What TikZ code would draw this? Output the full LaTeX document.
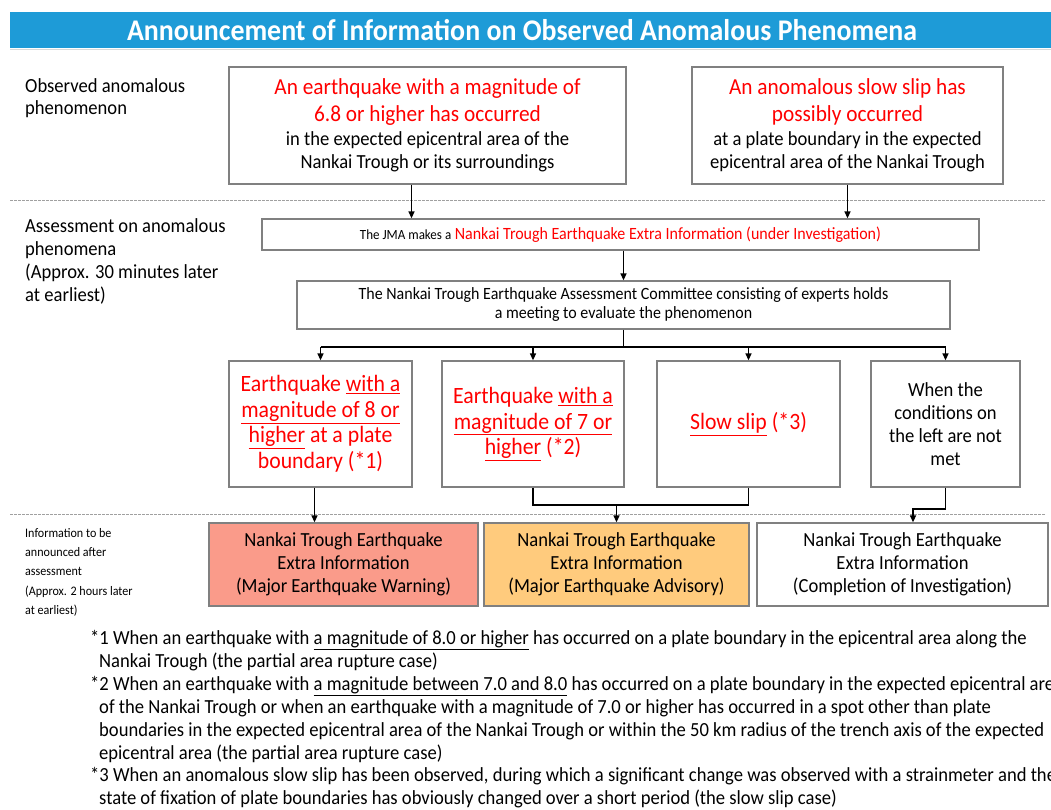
\documentclass[tikz,border=0pt]{standalone}
\usepackage{fontspec}
\setmainfont{Carlito}[FakeStretch=0.93]
\usetikzlibrary{positioning,arrows.meta,calc}

\definecolor{titleblue}{RGB}{30,155,215}
\definecolor{boxgray}{RGB}{128,128,128}
\definecolor{sepgray}{RGB}{160,160,160}
\definecolor{warnfill}{RGB}{250,155,138}
\definecolor{advfill}{RGB}{255,203,125}

\newcommand{\bigred}[1]{{\color{red}\fontsize{22.9}{27}\selectfont #1}}

\begin{document}
\begin{tikzpicture}[x=1pt,y=-1pt,
	box/.style={draw=boxgray, line width=1.3pt, align=center, inner sep=2pt, fill=white},
	arr/.style={line width=1.4pt, -{Triangle[length=7pt,width=6pt]}},
	link/.style={line width=1.4pt},
	sep/.style={draw=sepgray, line width=1pt, dash pattern=on 3pt off 1pt},
	side/.style={anchor=north west, inner sep=0pt, align=left, font=\fontsize{20}{22.5}\selectfont},
	note/.style={anchor=north west, inner sep=0pt, align=left, font=\fontsize{20}{23}\selectfont},
	]
	\useasboundingbox (0,0) rectangle (1051,809);
	\fill[white] (0,0) rectangle (1051,809);
	% title bar
	\fill[titleblue] (10,12) rectangle (1051,48);
	\draw[gray!30, line width=1pt] (10,49.5) -- (1051,49.5);
	\node[text=white, font=\bfseries\fontsize{30}{32}\selectfont] (title) at (522,30) {Announcement of Information on Observed Anomalous Phenomena};
	
	% row labels
	\node[side] (lab1) at (25,78) {Observed anomalous\\phenomenon};
	\node[side, font=\fontsize{20}{23}\selectfont] (lab2) at (25,218) {Assessment on anomalous\\phenomena\\(Approx. 30 minutes later\\at earliest)};
	\node[side, font=\fontsize{13}{19.3}\selectfont] (lab3) at (25,528) {Information to be\\announced after\\assessment\\(Approx. 2 hours later\\at earliest)};
	
	% separators
	\draw[sep] (10,200) -- (1045,200);
	\draw[sep] (10,514) -- (1045,514);
	
	% observed phenomena
	\node[box, minimum width=397, minimum height=117, font=\fontsize{20}{23}\selectfont] (quake) at (427.5,125.5) {\bigred{An earthquake with a magnitude of}\\[4pt]\bigred{6.8 or higher has occurred}\\[1pt]in the expected epicentral area of the\\Nankai Trough or its surroundings};
	\node[box, minimum width=311, minimum height=117, font=\fontsize{20}{23}\selectfont] (slip) at (847.5,125.5) {\bigred{An anomalous slow slip has}\\[4pt]\bigred{possibly occurred}\\[1pt]at a plate boundary in the expected\\epicentral area of the Nankai Trough};
	
	% assessment
	\node[box, minimum width=717, minimum height=31, font=\fontsize{17.2}{19}\selectfont] (jma) at (620.5,234.5) {{\fontsize{14}{15}\selectfont The JMA makes a} {\color{red}Nankai Trough Earthquake Extra Information (under Investigation)}};
	\node[box, minimum width=653, minimum height=48, font=\fontsize{17.2}{19}\selectfont] (com) at (623.5,305) {The Nankai Trough Earthquake Assessment Committee consisting of experts holds\\a meeting to evaluate the phenomenon};
	
	% cases
	\node[box, minimum width=183, minimum height=126, text=red, font=\fontsize{23.4}{25.5}\selectfont] (big8) at (320.5,424) {Earthquake \underline{with a}\\\underline{magnitude of 8 or}\\\underline{higher} at a plate\\boundary (*1)};
	\node[box, minimum width=182, minimum height=126, text=red, font=\fontsize{23.4}{25.5}\selectfont] (big7) at (533,424) {Earthquake \underline{with a}\\\underline{magnitude of 7 or}\\\underline{higher} (*2)};
	\node[box, minimum width=183, minimum height=126, text=red, font=\fontsize{23.4}{25.5}\selectfont] (slowslip) at (748.5,424) {\underline{Slow slip} (*3)};
	\node[box, minimum width=149, minimum height=126, font=\fontsize{20}{23}\selectfont] (other) at (945.5,424) {When the\\conditions on\\the left are not\\met};
	
	% announced information
	\node[box, minimum width=269, minimum height=83, fill=warnfill, font=\fontsize{20}{23}\selectfont] (warning) at (343.5,564.5) {Nankai Trough Earthquake\\Extra Information\\(Major Earthquake Warning)};
	\node[box, minimum width=265, minimum height=83, fill=advfill, font=\fontsize{20}{23}\selectfont] (advisory) at (616.5,564.5) {Nankai Trough Earthquake\\Extra Information\\(Major Earthquake Advisory)};
	\node[box, minimum width=291, minimum height=83, font=\fontsize{20}{23}\selectfont] (complete) at (902.5,564.5) {Nankai Trough Earthquake\\Extra Information\\(Completion of Investigation)};
	
	% connectors
	\coordinate (qout) at ([xshift=-16pt]quake.south);
	\draw[arr] (qout) -- (qout |- jma.north);
	\draw[arr] (slip.south) -- (slip.south |- jma.north);
	\draw[arr] (com.north |- jma.south) -- (com.north);
	\coordinate (split) at (623.5,347);
	\draw[link] (com.south) -- (split);
	\draw[link] (big8.north |- split) -- (other.north |- split);
	\foreach \c in {big8,big7,slowslip,other}
		\draw[arr] (\c.north |- split) -- (\c.north);
	\coordinate (drop) at ([xshift=-6pt]big8.south);
	\draw[arr] (drop) -- (drop |- warning.north);
	\coordinate (join) at (616.5,505);
	\draw[link] (big7.south) |- (slowslip.south |- join) -- (slowslip.south);
	\draw[arr] (join) -- (advisory.north);
	\coordinate (bend) at (913,509);
	\draw[arr] (other.south) |- (bend) -- (bend |- complete.north);
	
	% footnotes
	\node[note] (note1) at (90,630) {*1 When an earthquake with \underline{a magnitude of 8.0 or higher} has occurred on a plate boundary in the epicentral area along the\\\hspace*{9pt}Nankai Trough (the partial area rupture case)};
	\node[note] (note2) at (90,676) {*2 When an earthquake with \underline{a magnitude between 7.0 and 8.0} has occurred on a plate boundary in the expected epicentral area\\\hspace*{9pt}of the Nankai Trough or when an earthquake with a magnitude of 7.0 or higher has occurred in a spot other than plate\\\hspace*{9pt}boundaries in the expected epicentral area of the Nankai Trough or within the 50 km radius of the trench axis of the expected\\\hspace*{9pt}epicentral area (the partial area rupture case)};
	\node[note] (note3) at (90,767) {*3 When an anomalous slow slip has been observed, during which a significant change was observed with a strainmeter and the\\\hspace*{9pt}state of fixation of plate boundaries has obviously changed over a short period (the slow slip case)};
\end{tikzpicture}
\end{document}
